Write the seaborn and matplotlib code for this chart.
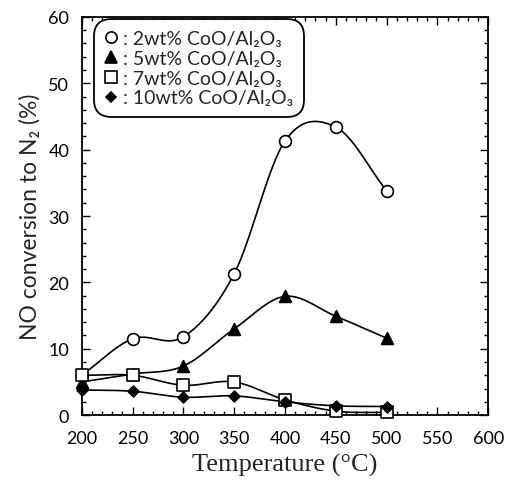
import numpy as np
import pandas as pd
import matplotlib
matplotlib.use("Agg")
import matplotlib.pyplot as plt
from matplotlib.lines import Line2D
from matplotlib.ticker import MultipleLocator
import seaborn as sns

# Reaction temperatures (°C)
temperature = [200, 250, 300, 350, 400, 450, 500]

# NO conversion to N2 (%) for each catalyst loading
co2 = [6.0, 11.5, 11.8, 21.3, 41.3, 43.4, 33.8]
co5 = [5.0, 6.2, 7.4, 13.0, 17.9, 14.9, 11.6]
co7 = [6.0, 6.0, 4.5, 5.0, 2.3, 0.6, 0.4]
co10 = [3.8, 3.6, 2.7, 2.9, 2.0, 1.4, 1.3]

labels = [": 2wt% CoO/Al₂O₃", ": 5wt% CoO/Al₂O₃",
          ": 7wt% CoO/Al₂O₃", ": 10wt% CoO/Al₂O₃"]

sns.set_style("ticks")
plt.rcParams["font.family"] = ["Lato", "DejaVu Sans"]


def smooth(x, y, n=30):
    """Catmull-Rom curve through the measured points, for drawing the trend line."""
    x = np.asarray(x, float)
    y = np.asarray(y, float)
    px = np.concatenate([[2 * x[0] - x[1]], x, [2 * x[-1] - x[-2]]])
    py = np.concatenate([[2 * y[0] - y[1]], y, [2 * y[-1] - y[-2]]])
    xs, ys = [], []
    t = np.linspace(0, 1, n, endpoint=False)
    for i in range(1, len(px) - 2):
        for arr, out in ((px, xs), (py, ys)):
            p0, p1, p2, p3 = arr[i - 1], arr[i], arr[i + 1], arr[i + 2]
            out.extend(0.5 * ((2 * p1) + (-p0 + p2) * t
                              + (2 * p0 - 5 * p1 + 4 * p2 - p3) * t ** 2
                              + (-p0 + 3 * p1 - 3 * p2 + p3) * t ** 3))
    xs.append(x[-1])
    ys.append(y[-1])
    return np.array(xs), np.array(ys)


fig = plt.figure(figsize=(5.08, 4.85), dpi=100)
ax = fig.add_axes([0.161, 0.142, 0.800, 0.821])

series = [
    (co2, "o", "white", 8.5),
    (co5, "^", "black", 8.5),
    (co7, "s", "white", 9.0),
    (co10, "D", "black", 5.5),
]

handles = []
for (vals, mk, fc, ms), lab in zip(series, labels):
    sx, sy = smooth(temperature, vals)
    curve = pd.DataFrame({"T": sx, "v": sy})
    sns.lineplot(data=curve, x="T", y="v", ax=ax, color="black",
                 lw=1.2, sort=False, estimator=None, zorder=2)
    pts = pd.DataFrame({"T": temperature, "v": vals})
    sns.scatterplot(data=pts, x="T", y="v", ax=ax, marker=mk,
                    s=ms ** 2, color=fc, edgecolor="black",
                    linewidth=1.2, zorder=3, clip_on=False)
    handles.append(Line2D([], [], ls="none", marker=mk, markersize=ms * 0.95,
                          markerfacecolor=fc, markeredgecolor="black",
                          markeredgewidth=1.2, label=lab))

ax.set_xlim(200, 600)
ax.set_ylim(0, 60)
ax.xaxis.set_major_locator(MultipleLocator(50))
ax.xaxis.set_minor_locator(MultipleLocator(10))
ax.yaxis.set_major_locator(MultipleLocator(10))
ax.yaxis.set_minor_locator(MultipleLocator(2))
ax.tick_params(which="both", direction="in", top=True, right=True,
               width=1.0, labelsize=13, colors="black")
ax.tick_params(which="major", length=6)
ax.tick_params(axis="x", which="major", pad=11)
ax.tick_params(axis="y", which="major", pad=9)
ax.tick_params(which="minor", length=3)
for sp in ax.spines.values():
    sp.set_linewidth(1.3)
    sp.set_color("black")

ax.set_xlabel("Temperature (°C)", family=["Liberation Serif", "DejaVu Serif"],
              fontsize=19, labelpad=5)
ax.set_ylabel("NO conversion to N₂ (%)", fontsize=16.5, labelpad=6)

leg = ax.legend(handles=handles, loc="upper left", bbox_to_anchor=(0.035, 0.99),
                frameon=True, fancybox=True, fontsize=14, handlelength=0.6,
                handletextpad=0.35, labelspacing=0.15, borderpad=0.25,
                borderaxespad=0.2)
frame = leg.get_frame()
frame.set_edgecolor("black")
frame.set_linewidth(1.3)
frame.set_alpha(1)
frame.set_boxstyle("round,pad=0.3,rounding_size=0.9")

fig.savefig("out.png", dpi=100)
